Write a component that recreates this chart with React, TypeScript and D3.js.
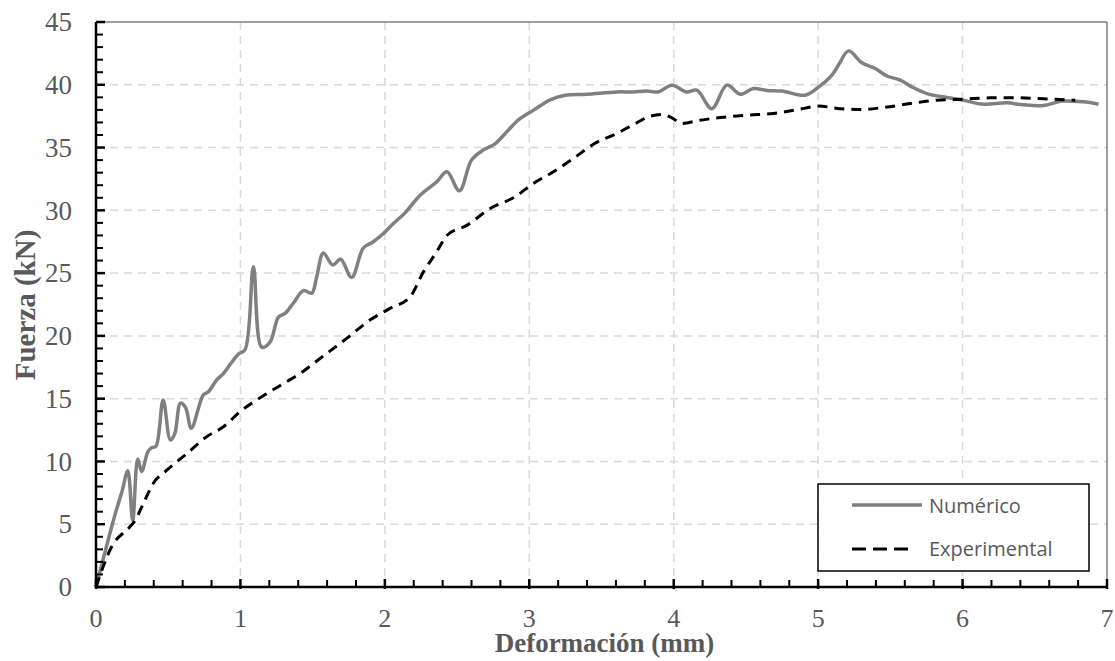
import React from "react";
import * as d3 from "d3";

const numericoX = [0,0.065,0.13,0.18,0.22,0.254,0.289,0.316,0.36,0.386,0.415,0.465,0.515,0.545,0.585,0.62,0.66,0.743,0.778,0.836,0.882,0.94,0.986,1.032,1.09,1.147,1.205,1.263,1.309,1.366,1.436,1.494,1.528,1.574,1.639,1.694,1.77,1.851,1.92,1.99,2.059,2.14,2.244,2.359,2.43,2.516,2.6,2.68,2.763,2.844,2.925,3.03,3.144,3.248,3.398,3.606,3.72,3.814,3.894,3.987,4.09,4.16,4.264,4.368,4.46,4.552,4.645,4.749,4.91,4.99,5.095,5.152,5.21,5.303,5.395,5.476,5.568,5.649,5.753,5.891,6.006,6.145,6.307,6.422,6.56,6.688,6.837,6.941];
const numericoY = [0,2.9,5.7,7.6,9.26,5.3,10.2,9.2,10.8,11.1,11.2,14.9,11.7,12.2,14.65,14.3,12.65,15.3,15.55,16.5,17.0,17.9,18.55,18.9,25.5,19.1,19.5,21.5,21.8,22.6,23.6,23.4,24.7,26.6,25.65,26.1,24.65,27.0,27.5,28.15,28.95,29.8,31.2,32.27,33.07,31.55,34.0,34.8,35.3,36.25,37.2,37.98,38.8,39.17,39.25,39.43,39.43,39.5,39.43,39.97,39.43,39.57,38.1,39.97,39.25,39.7,39.55,39.5,39.17,39.7,40.76,41.8,42.7,41.75,41.3,40.7,40.37,39.83,39.3,38.99,38.77,38.45,38.56,38.4,38.35,38.7,38.64,38.45];

const experimentalX = [0,0.108,0.235,0.27,0.328,0.397,0.49,0.616,0.766,0.882,0.997,1.147,1.32,1.413,1.551,1.736,1.897,2.036,2.175,2.267,2.359,2.43,2.567,2.729,2.902,3.028,3.167,3.306,3.444,3.606,3.744,3.837,3.917,3.987,4.056,4.183,4.321,4.506,4.69,4.863,5.002,5.152,5.291,5.452,5.637,5.822,6.006,6.191,6.376,6.56,6.78];
const experimentalY = [0,3.2,4.8,5.28,6.66,8.26,9.3,10.5,11.97,12.76,13.96,15.15,16.35,17.0,18.2,19.8,21.26,22.19,23.1,25.1,26.7,28.0,28.8,30.15,31.08,32.14,33.07,34.13,35.27,36.12,36.97,37.5,37.63,37.37,36.92,37.18,37.39,37.58,37.71,38.03,38.3,38.1,38.03,38.19,38.5,38.77,38.85,38.96,38.96,38.88,38.77];

const xTicks = [0,1,2,3,4,5,6,7];
const yTicks = [0,5,10,15,20,25,30,35,40,45];
const seriesNames = ["Numérico", "Experimental"];
const xTitle = "Deformación (mm)";
const yTitle = "Fuerza (kN)";

export default function App() {
  const W = 1115, H = 661;
  const left = 96, right = 1107, top = 22, bottom = 587;
  const x = d3.scaleLinear().domain([0, 7]).range([left, right]);
  const y = d3.scaleLinear().domain([0, 45]).range([bottom, top]);

  const num: [number, number][] = numericoX.map((v, i) => [v, numericoY[i]]);
  const exp: [number, number][] = experimentalX.map((v, i) => [v, experimentalY[i]]);

  const lineNum = d3.line<[number, number]>().x(d => x(d[0])).y(d => y(d[1])).curve(d3.curveCatmullRom.alpha(0.5));
  const lineExp = d3.line<[number, number]>().x(d => x(d[0])).y(d => y(d[1])).curve(d3.curveMonotoneX);

  const xMinor = d3.range(0, 7.0001, 0.2).filter(v => Math.abs(v - Math.round(v)) > 1e-6);
  const yMinor = d3.range(0, 45.0001, 1).filter(v => v % 5 !== 0);

  const serif = "'Liberation Serif', 'Times New Roman', serif";
  const sans = "'Open Sans', 'Noto Sans', sans-serif";
  const grey = "#595959";

  return (
    <svg width={W} height={H} style={{ position: "absolute", left: 0, top: 0, background: "#fff" }}>
      <rect x={0} y={0} width={W} height={H} fill="#fff" />
      {xTicks.filter(t => t > 0 && t < 7).map(t => (
        <line key={"gx" + t} x1={x(t)} x2={x(t)} y1={top} y2={bottom} stroke="#d9d9d9" strokeWidth={1.5} strokeDasharray="8,6" />
      ))}
      {yTicks.filter(t => t > 0 && t < 45).map(t => (
        <line key={"gy" + t} x1={left} x2={right} y1={y(t)} y2={y(t)} stroke="#d9d9d9" strokeWidth={1.5} strokeDasharray="8,6" />
      ))}
      <line x1={left} x2={right} y1={top} y2={top} stroke="#7f7f7f" strokeWidth={1.5} />
      <line x1={right} x2={right} y1={top} y2={bottom} stroke="#7f7f7f" strokeWidth={1.5} />
      <path d={lineNum(num) || ""} fill="none" stroke="#808080" strokeWidth={3.5} strokeLinejoin="round" />
      <path d={lineExp(exp) || ""} fill="none" stroke="#000" strokeWidth={3} strokeDasharray="10,7" />
      <line x1={left} x2={left} y1={top} y2={bottom + 1} stroke="#000" strokeWidth={2.5} />
      <line x1={left - 1} x2={right} y1={bottom} y2={bottom} stroke="#000" strokeWidth={2.5} />
      {yTicks.map(t => (
        <line key={"yt" + t} x1={left} x2={left + 9} y1={y(t)} y2={y(t)} stroke="#000" strokeWidth={2.5} />
      ))}
      {yMinor.map(t => (
        <line key={"ym" + t} x1={left} x2={left + 7} y1={y(t)} y2={y(t)} stroke="#000" strokeWidth={2} />
      ))}
      {xTicks.map(t => (
        <line key={"xt" + t} x1={x(t)} x2={x(t)} y1={bottom + 2} y2={bottom - 8} stroke="#000" strokeWidth={2.5} />
      ))}
      {xMinor.map(t => (
        <line key={"xm" + t} x1={x(t)} x2={x(t)} y1={bottom} y2={bottom - 7} stroke="#000" strokeWidth={2} />
      ))}
      {yTicks.map(t => (
        <text key={"yl" + t} x={72} y={y(t)} dy="0.34em" textAnchor="end" fontFamily={serif} fontSize={27} fill={grey}>{t}</text>
      ))}
      {xTicks.map(t => (
        <text key={"xl" + t} x={x(t)} y={627} textAnchor="middle" fontFamily={serif} fontSize={26} fill={grey}>{t}</text>
      ))}
      <text x={(488 + 721) / 2} y={652} textAnchor="middle" fontFamily={serif} fontWeight="bold" fontSize={27} fill={grey}>{xTitle}</text>
      <text transform={`translate(35, 305) rotate(-90)`} textAnchor="middle" fontFamily={serif} fontWeight="bold" fontSize={29} fill={grey}>{yTitle}</text>
      <rect x={818} y={484} width={271} height={87} fill="#fff" stroke="#000" strokeWidth={1.5} />
      <line x1={852} x2={922} y1={505} y2={505} stroke="#808080" strokeWidth={3.5} />
      <text x={929} y={513} fontFamily={sans} fontSize={20} fill={grey}>{seriesNames[0]}</text>
      <line x1={852} x2={912} y1={549} y2={549} stroke="#000" strokeWidth={3} strokeDasharray="14,7" />
      <text x={929} y={556} fontFamily={sans} fontSize={20} fill={grey}>{seriesNames[1]}</text>
    </svg>
  );
}
